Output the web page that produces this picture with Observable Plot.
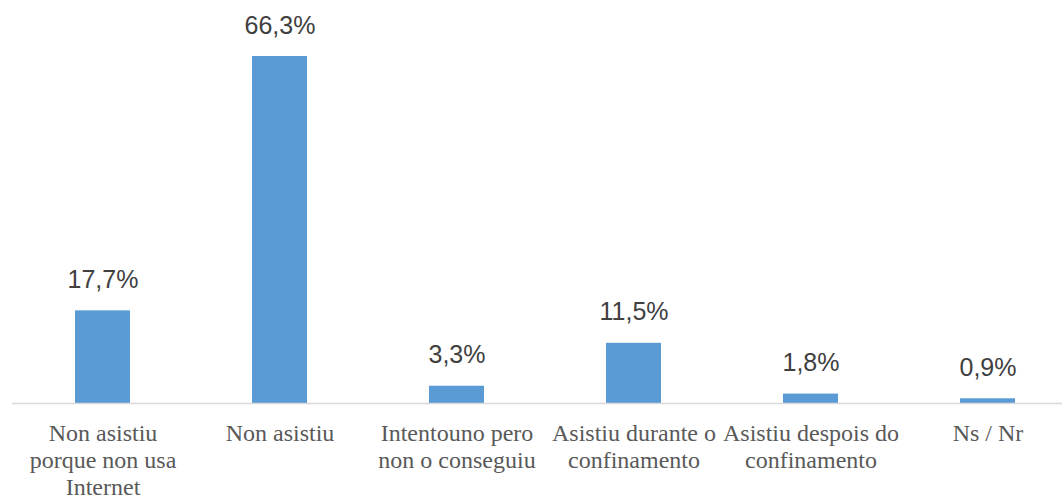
<!DOCTYPE html>
<html>
<head>
<meta charset="utf-8">
<script src="https://cdn.jsdelivr.net/npm/d3@7"></script>
<script src="https://cdn.jsdelivr.net/npm/@observablehq/plot@0.6"></script>
<style>
  html, body { margin: 0; padding: 0; background: #fff; }
</style>
</head>
<body>
<div id="chart"></div>
<script>
const categories = [
  "Non asistiu\nporque non usa\nInternet",
  "Non asistiu",
  "Intentouno pero\nnon o conseguiu",
  "Asistiu durante o\nconfinamento",
  "Asistiu despois do\nconfinamento",
  "Ns / Nr"
];
const values = [17.7, 66.3, 3.3, 11.5, 1.8, 0.9];

const data = categories.map((c, i) => ({cat: c, value: values[i]}));
const fmt = v => v.toFixed(1).replace(".", ",") + "%";

const chart = Plot.plot({
  width: 1062,
  height: 496,
  marginLeft: 12,
  marginRight: 0,
  marginTop: 0,
  marginBottom: 0,
  x: {domain: categories, range: [12, 1077.6], paddingInner: 0.69, paddingOuter: 0.345, axis: null},
  y: {domain: [0, 66.3], range: [403, 56], axis: null},
  marks: [
    Plot.barY(data, {x: "cat", y: "value", fill: "#5b9bd5"}),
    Plot.ruleY([0], {stroke: "#d9d9d9", strokeWidth: 1.5}),
    Plot.text(data, {
      x: "cat", y: "value", text: d => fmt(d.value),
      lineAnchor: "bottom", dy: -23,
      fontFamily: "'Liberation Sans', Arial, sans-serif", fontSize: 25, fill: "#404040"
    }),
    Plot.text(data, {
      x: "cat", y: 0, text: "cat",
      lineAnchor: "top", dy: 19, lineHeight: 1.11,
      fontFamily: "'Liberation Serif', 'Times New Roman', serif", fontSize: 24, fill: "#595959"
    })
  ]
});
document.getElementById("chart").appendChild(chart);
</script>
</body>
</html>
